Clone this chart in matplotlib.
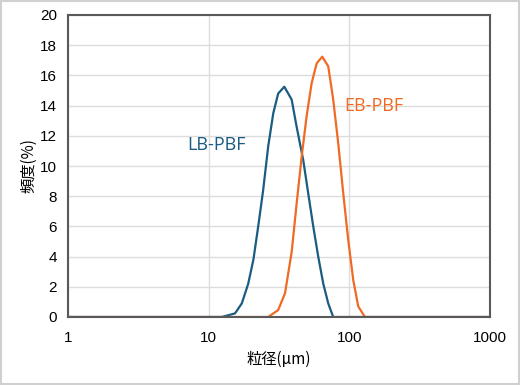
import matplotlib.pyplot as plt
from matplotlib.ticker import FixedLocator, NullLocator, FixedFormatter

# particle size (um) and frequency (%)
lb_size = [1, 10, 12.4, 15.4, 17.2, 19.1, 20.8, 22.5, 24.4, 26.5, 28.8, 31.2, 34.5,
           38.9, 42.2, 47.0, 51.0, 55.4, 60.1, 65.3, 70.8, 76.8, 1000]
lb_freq = [0, 0, 0, 0.24, 0.9, 2.2, 3.8, 6.0, 8.4, 11.3, 13.5, 14.8, 15.25,
           14.4, 12.6, 10.4, 8.2, 6.0, 4.0, 2.2, 0.9, 0, 0]

eb_size = [1, 10, 26.5, 31.2, 34.9, 38.9, 42.2, 45.8, 49.7, 54.0, 58.6, 64.2,
           70.8, 76.8, 83.4, 90.5, 98.2, 106.6, 115.7, 129.1, 1000]
eb_freq = [0, 0, 0, 0.46, 1.57, 4.3, 7.5, 10.6, 13.3, 15.5, 16.8, 17.24,
           16.6, 14.4, 11.5, 8.2, 5.1, 2.45, 0.7, 0, 0]

x_ticks = [1, 10, 100, 1000]
y_ticks = list(range(0, 21, 2))

lb_color = '#1b5c82'
eb_color = '#f06a23'

plt.rcParams['font.family'] = ['Liberation Sans', 'Noto Sans CJK JP', 'DejaVu Sans']

fig = plt.figure(figsize=(5.2, 3.85), dpi=100)
fig.patches.append(plt.Rectangle((0.002, 0.003), 0.996, 0.994, transform=fig.transFigure,
                                 fill=False, ec='#d0d0d0', lw=1.5))
ax = fig.add_axes([68 / 520, 1 - 317 / 385, 422 / 520, 302 / 385])

ax.plot(lb_size, lb_freq, color=lb_color, lw=1.6, solid_joinstyle='round')
ax.plot(eb_size, eb_freq, color=eb_color, lw=1.6, solid_joinstyle='round')

ax.set_xscale('log')
ax.set_xlim(1, 1000)
ax.set_ylim(0, 20)
ax.xaxis.set_major_locator(FixedLocator(x_ticks))
ax.xaxis.set_major_formatter(FixedFormatter([str(v) for v in x_ticks]))
ax.xaxis.set_minor_locator(NullLocator())
ax.set_yticks(y_ticks)
ax.tick_params(length=0, labelsize=11, pad=8)
ax.tick_params(axis='x', pad=10)
ax.grid(True, color='#dcdcdc', lw=1)
ax.set_axisbelow(True)
for s in ax.spines.values():
    s.set_color('#595959')
    s.set_linewidth(1.5)

ax.text(11.3, 11.4, 'LB-PBF', color=lb_color, fontsize=13, family='Open Sans', ha='center', va='center')
ax.text(150, 13.95, 'EB-PBF', color=eb_color, fontsize=13, family='Open Sans', ha='center', va='center')

ax.set_xlabel('粒径(μm)', fontsize=11, family=['Noto Sans CJK JP', 'DejaVu Sans'], labelpad=4)
ax.set_ylabel('頻度(%)', fontsize=11, family=['Noto Sans CJK JP', 'DejaVu Sans'], labelpad=2)

fig.savefig('out.png', dpi=100)
